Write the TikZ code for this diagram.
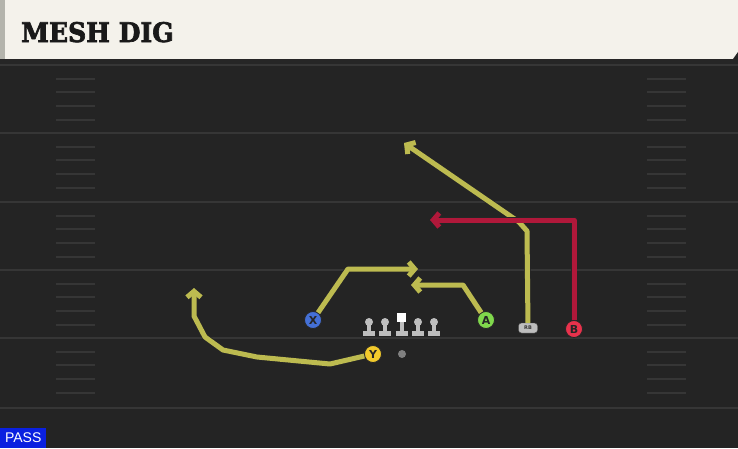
\documentclass[tikz,border=0pt]{standalone}
\usepackage{fontspec}
\setmainfont{DejaVu Sans}
\newfontfamily\headfont[FakeBold=2.5]{DejaVu Serif}
\newfontfamily\passfont{Liberation Sans}
\usepackage{xcolor}
\usepackage{graphicx}
\usetikzlibrary{arrows.meta}

\definecolor{field}{HTML}{242424}
\definecolor{yardline}{HTML}{363636}
\definecolor{hashmark}{HTML}{363636}
\definecolor{headcream}{HTML}{F4F2EB}
\definecolor{headedge}{HTML}{B4B4AC}
\definecolor{routey}{HTML}{BDBB50}
\definecolor{router}{HTML}{B0183A}
\definecolor{xblue}{HTML}{4470D6}
\definecolor{yyellow}{HTML}{F2CA2C}
\definecolor{agreen}{HTML}{80D84C}
\definecolor{bred}{HTML}{E8324C}
\definecolor{linegray}{HTML}{BEBEBE}
\definecolor{passblue}{HTML}{0A20E0}

\begin{document}
\begin{tikzpicture}[x=1pt, y=-1pt,
    player/.style={circle, draw=black!85, line width=0.8pt, inner sep=0pt, minimum size=17pt,
      font=\bfseries\fontsize{11}{11}\selectfont, text=black!85},
    route/.style={line width=5pt, line join=round, -{Straight Barb[length=6pt, width=14pt]},
      preaction={draw=black!85, line width=6.5pt}}]
    \useasboundingbox (0,0) rectangle (738,448);
    \fill[field] (0,0) rectangle (738,448);

    % yard lines and hashes
    \foreach \yl in {65,133,202,270,338,408}
      \draw[yardline, line width=2.5pt] (0,\yl) -- (738,\yl);
    \foreach \yl in {65,133,202,270,338} {
      \foreach \k in {1,...,4} {
        \draw[hashmark, line width=2pt] (56,\yl+\k*13.7) -- (95,\yl+\k*13.7);
        \draw[hashmark, line width=2pt] (647,\yl+\k*13.7) -- (686,\yl+\k*13.7);
      }
    }

    % header
    \fill[black!85] (0,58) rectangle (738,64);
    \fill[headedge] (0,0) rectangle (5,59);
    \fill[headcream] (5,0) rectangle (738,59);
    \fill[field] (733,59) -- (738,52) -- (738,59) -- cycle;
    \node[anchor=base west, inner sep=0pt, text=black!90,
      font=\headfont\bfseries\fontsize{27}{27}\selectfont] (title) at (21,42)
      {\scalebox{0.93}[1]{MESH DIG}};

    % offensive line
    \foreach \lx in {369,385,418,434} {
      \fill[linegray] (\lx-2,323) rectangle (\lx+2,331);
      \fill[linegray] (\lx-6,331) rectangle (\lx+6,336);
      \fill[linegray] (\lx,322) circle (4pt);
    }
    \fill[white] (397,313) rectangle (406,322);
    \fill[linegray] (400,322) rectangle (404,331);
    \fill[linegray] (396,331) rectangle (408,336);
    \node[circle, fill=gray, inner sep=0pt, minimum size=8pt] (ball) at (402,354) {};

    % players
    \node[player, fill=xblue] (X) at (313,320) {X};
    \node[player, fill=yyellow] (Y) at (373,354) {Y};
    \node[player, fill=agreen] (A) at (486,320) {A};
    \node[player, fill=bred] (B) at (574,329) {B};
    \node[rectangle, rounded corners=3pt, fill=linegray, draw=black!70, inner sep=0pt,
      minimum width=19pt, minimum height=10pt, font=\bfseries\fontsize{5}{5}\selectfont,
      text=black!80] (RB) at (528,328) {RB};

    % route points
    \coordinate (x1) at (348,269);
    \coordinate (xend) at (418,269);
    \coordinate (a1) at (463,285);
    \coordinate (aend) at (411,285);
    \coordinate (rb1) at (527,231);
    \coordinate (rb2) at (519,222);
    \coordinate (rbend) at (404,143);
    \coordinate (b1) at (574,220);
    \coordinate (bend) at (430,220);
    \coordinate (y1) at (330,364);
    \coordinate (y2) at (257,357);
    \coordinate (y3) at (223,350);
    \coordinate (y4) at (205,337);
    \coordinate (y5) at (194,316);
    \coordinate (yend) at (194,288);

    % routes
    \draw[route, routey] (X) -- (x1) -- (xend);
    \draw[route, routey] (A) -- (a1) -- (aend);
    \draw[route, routey] (Y) -- (y1) -- (y2) -- (y3) -- (y4) -- (y5) -- (yend);
    \draw[route, routey] (RB) -- (rb1) -- (rb2) -- (rbend);
    \draw[route, router] (B) -- (b1) -- (bend);

    % play type
    \node[anchor=south west, fill=passblue, text=white, inner sep=0pt, minimum width=46pt,
      minimum height=20pt, font=\passfont\fontsize{14}{14}\selectfont] (play) at (0,448) {PASS};
\end{tikzpicture}
\end{document}
